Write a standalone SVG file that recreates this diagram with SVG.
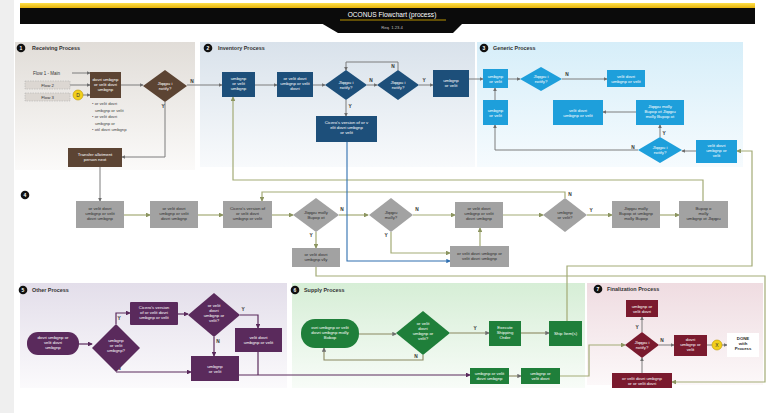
<svg xmlns="http://www.w3.org/2000/svg" width="769" height="413" viewBox="0 0 769 413">
<defs>
<linearGradient id="gy" x1="0" y1="0" x2="0" y2="1"><stop offset="0" stop-color="#ffe14a"/><stop offset="1" stop-color="#e0a800"/></linearGradient>
<linearGradient id="g1" x1="0" y1="0" x2="0" y2="1"><stop offset="0" stop-color="#e1ddd8"/><stop offset="1" stop-color="#fbfaf9"/></linearGradient>
<linearGradient id="g2" x1="0" y1="0" x2="0" y2="1"><stop offset="0" stop-color="#d9e2eb"/><stop offset="1" stop-color="#f8fafc"/></linearGradient>
<linearGradient id="g3" x1="0" y1="0" x2="0" y2="1"><stop offset="0" stop-color="#d6eef9"/><stop offset="1" stop-color="#f6fbfe"/></linearGradient>
<linearGradient id="g5" x1="0" y1="0" x2="0" y2="1"><stop offset="0" stop-color="#e3deea"/><stop offset="1" stop-color="#fbfafc"/></linearGradient>
<linearGradient id="g6" x1="0" y1="0" x2="0" y2="1"><stop offset="0" stop-color="#d6eed6"/><stop offset="1" stop-color="#f8fcf8"/></linearGradient>
<linearGradient id="g7" x1="0" y1="0" x2="0" y2="1"><stop offset="0" stop-color="#efdce1"/><stop offset="1" stop-color="#fcf8f9"/></linearGradient>
<marker id="ag" viewBox="0 0 6 6" refX="5" refY="3" markerWidth="4" markerHeight="4" orient="auto"><path d="M0,0L6,3L0,6z" fill="#6e6e6e"/></marker>
<marker id="ao" viewBox="0 0 6 6" refX="5" refY="3" markerWidth="4" markerHeight="4" orient="auto"><path d="M0,0L6,3L0,6z" fill="#8c9560"/></marker>
<marker id="ab" viewBox="0 0 6 6" refX="5" refY="3" markerWidth="4" markerHeight="4" orient="auto"><path d="M0,0L6,3L0,6z" fill="#2f6fb0"/></marker>
<marker id="ap" viewBox="0 0 6 6" refX="5" refY="3" markerWidth="4" markerHeight="4" orient="auto"><path d="M0,0L6,3L0,6z" fill="#5a2a5c"/></marker>
</defs>
<style>
text{font-family:"Liberation Sans",Arial,sans-serif}
.t{font-size:4.3px;fill:#fff;text-anchor:middle}
.td{font-size:4.3px;fill:#2e2e2e;text-anchor:middle}
.h{font-size:5.4px;font-weight:bold;fill:#333}
.n{font-size:5px;font-weight:bold;fill:#fff;text-anchor:middle}
.l{font-size:4.8px;font-weight:bold;fill:#333;text-anchor:middle}
.br{fill:#5c4433}
.db{fill:#1d4f7a}
.lb{fill:#1e9fdb}
.gr{fill:#a2a2a2}
.pu{fill:#5a2a5c}
.gn{fill:#1f7f3a}
.mr{fill:#7a1a2e}
.cg{fill:none;stroke:#7d7d7d;stroke-width:1}
.co{fill:none;stroke:#a3ab76;stroke-width:1.2}
.cb{fill:none;stroke:#2f6fb0;stroke-width:1.1}
.cp{fill:none;stroke:#5a2a5c;stroke-width:1.2}
.cs{fill:none;stroke:#8a8760;stroke-width:1.1}
</style>
<rect width="769" height="413" fill="#ffffff"/>
<rect width="14" height="413" fill="#efefef"/>

<g id="header">
<rect x="20" y="3" width="735" height="6" fill="url(#gy)"/>
<rect x="20" y="8" width="735" height="16" fill="#0b0b0b"/>
<path d="M321,23 L463,23 L453,33 L338,33 Z" fill="#0b0b0b"/>
<text x="392" y="17" font-size="6.6" fill="#fff" text-anchor="middle">OCONUS Flowchart (process)</text>
<line x1="340" y1="20" x2="446" y2="20" stroke="#c9a000" stroke-width="0.9"/>
<text x="392" y="29" font-size="4.2" fill="#bdbdbd" text-anchor="middle">Req. 1.23.4</text>
</g>

<g id="panels">
<rect x="15" y="42" width="180" height="128" fill="url(#g1)"/>
<rect x="200" y="42" width="275" height="125" fill="url(#g2)"/>
<rect x="477" y="42" width="266" height="125" fill="url(#g3)"/>
<rect x="20" y="283" width="267" height="105" fill="url(#g5)"/>
<rect x="292" y="283" width="293" height="105" fill="url(#g6)"/>
<rect x="587" y="283" width="176" height="102" fill="url(#g7)"/>
<circle cx="21" cy="48" r="4.3" fill="#111"/><text class="n" x="21" y="49.8">1</text>
<text class="h" x="32" y="50">Receiving Process</text>
<circle cx="208" cy="48" r="4.3" fill="#111"/><text class="n" x="208" y="49.8">2</text>
<text class="h" x="218" y="50">Inventory Process</text>
<circle cx="484" cy="48" r="4.3" fill="#111"/><text class="n" x="484" y="49.8">3</text>
<text class="h" x="493" y="50">Generic Process</text>
<circle cx="25" cy="195" r="4.3" fill="#111"/><text class="n" x="25" y="196.8">4</text>
<circle cx="23" cy="290" r="4.3" fill="#111"/><text class="n" x="23" y="291.8">5</text>
<text class="h" x="32" y="292">Other Process</text>
<circle cx="295" cy="290" r="4.3" fill="#111"/><text class="n" x="295" y="291.8">6</text>
<text class="h" x="304" y="292">Supply Process</text>
<circle cx="598" cy="289" r="4.3" fill="#111"/><text class="n" x="598" y="290.8">7</text>
<text class="h" x="607" y="291">Finalization Process</text>
</g>

<g id="connectors">
<!-- receiving -->
<path class="cg" d="M72,73 H90" marker-end="url(#ag)"/>
<path class="cg" d="M70,85 H90" marker-end="url(#ag)"/>
<path class="cg" d="M83,95 H90" marker-end="url(#ag)"/>
<path class="cg" d="M121,85 H143" marker-end="url(#ag)"/>
<path class="cg" d="M187,85 H222" marker-end="url(#ag)"/>
<path class="cg" d="M165,102 V157 H122" marker-end="url(#ag)"/>
<path class="cg" d="M100,167 V201" marker-end="url(#ag)"/>
<!-- inventory -->
<path class="cg" d="M255,85 H277" marker-end="url(#ag)"/>
<path class="cg" d="M313,85 H325" marker-end="url(#ag)"/>
<path class="cg" d="M367,85 H377" marker-end="url(#ag)"/>
<path class="cg" d="M419,85 H433" marker-end="url(#ag)"/>
<path class="cg" d="M398,70 V62 H346 V70" marker-end="url(#ag)"/>
<path class="cg" d="M346,100 V116" marker-end="url(#ag)"/>
<path class="cg" d="M469,79 H483" marker-end="url(#ag)"/>
<!-- generic -->
<path class="cg" d="M508,79 H520" marker-end="url(#ag)"/>
<path class="cg" d="M562,79 H607" marker-end="url(#ag)"/>
<path class="cg" d="M495,100 V88" marker-end="url(#ag)"/>
<path class="cg" d="M636,112 H603" marker-end="url(#ag)"/>
<path class="cg" d="M660,137 V125" marker-end="url(#ag)"/>
<path class="cg" d="M638,150 H495 V125" marker-end="url(#ag)"/>
<path class="cg" d="M696,151 H682" marker-end="url(#ag)"/>
<!-- long olive loops -->
<path class="co" d="M703,201 V180 H233 V97" marker-end="url(#ao)"/>
<path class="co" d="M565,198 V192 H262 V201" marker-end="url(#ao)"/>
<path class="co" d="M567,321 V266 H752 V151 H737" marker-end="url(#ao)"/>
<path class="co" d="M316,267 V276 H765 V382 H672" marker-end="url(#ao)"/>
<!-- row 4 -->
<path class="co" d="M124,215 H150" marker-end="url(#ao)"/>
<path class="co" d="M198,215 H223" marker-end="url(#ao)"/>
<path class="co" d="M272,215 H293" marker-end="url(#ao)"/>
<path class="co" d="M339,215 H368" marker-end="url(#ao)"/>
<path class="co" d="M413,215 H455" marker-end="url(#ao)"/>
<path class="co" d="M503,215 H543" marker-end="url(#ao)"/>
<path class="co" d="M587,215 H612" marker-end="url(#ao)"/>
<path class="co" d="M660,215 H679" marker-end="url(#ao)"/>
<path class="co" d="M316,232 V248" marker-end="url(#ao)"/>
<path class="co" d="M391,232 V253 H450" marker-end="url(#ao)"/>
<path class="co" d="M480,246 V228" marker-end="url(#ao)"/>
<path class="cb" d="M347,142 V261 H450" marker-end="url(#ab)"/>
<!-- other -->
<path class="cp" d="M79,344 H92" marker-end="url(#ap)"/>
<path class="cp" d="M116,324 V313 H130" marker-end="url(#ap)"/>
<path class="cp" d="M178,314 H188" marker-end="url(#ap)"/>
<path class="cp" d="M240,315 H258 V328" marker-end="url(#ap)"/>
<path class="cp" d="M214,337 V356" marker-end="url(#ap)"/>
<path class="cp" d="M116,372 H191" marker-end="url(#ap)"/>
<path class="cp" d="M258,352 V375"/>
<path class="cp" d="M239,375 H470" marker-end="url(#ap)"/>
<!-- supply -->
<path class="cs" d="M359,334 H396" marker-end="url(#ag)"/>
<path class="cs" d="M423,355 V360 H324 V348" marker-end="url(#ag)"/>
<path class="cs" d="M450,333 H489" marker-end="url(#ag)"/>
<path class="cs" d="M521,333 H549" marker-end="url(#ag)"/>
<path class="cs" d="M509,376 H521" marker-end="url(#ag)"/>
<path class="co" d="M560,376 H589 V345 H625" marker-end="url(#ao)"/>
<!-- final -->
<path class="cg" d="M642,332 V317" marker-end="url(#ag)"/>
<path class="cg" d="M659,345 H674" marker-end="url(#ag)"/>
<path class="cg" d="M707,345 H712"/>
<path class="cg" d="M722,345 H727" marker-end="url(#ag)"/>
<path class="cg" d="M642,373 V358" marker-end="url(#ag)"/>
<!-- labels -->
<text class="l" x="192" y="83">N</text>
<text class="l" x="163" y="108">Y</text>
<text class="l" x="371" y="82">N</text>
<text class="l" x="424" y="82">Y</text>
<text class="l" x="393" y="68">N</text>
<text class="l" x="350" y="108">Y</text>
<text class="l" x="567" y="76">N</text>
<text class="l" x="664" y="135">Y</text>
<text class="l" x="633" y="149">N</text>
<text class="l" x="342" y="211">N</text>
<text class="l" x="417" y="211">N</text>
<text class="l" x="311" y="237">Y</text>
<text class="l" x="386" y="237">Y</text>
<text class="l" x="570" y="196">N</text>
<text class="l" x="591" y="212">Y</text>
<text class="l" x="119" y="320">Y</text>
<text class="l" x="119" y="370">N</text>
<text class="l" x="243" y="311">Y</text>
<text class="l" x="218" y="343">N</text>
<text class="l" x="416" y="358">N</text>
<text class="l" x="475" y="330">Y</text>
<text class="l" x="637" y="329">Y</text>
<text class="l" x="662" y="342">N</text>
</g>

<g id="flow1"><text x="33" y="75" font-size="4.5" fill="#333">Flow 1 - Main</text></g>
<g id="flow2"><rect x="25" y="81" width="45" height="8" fill="#dcd7d2" stroke="#aaa" stroke-width="0.5" stroke-dasharray="1.5,1"/><text class="td" x="47.5" y="86.5">Flow 2</text></g>
<g id="flow3"><rect x="25" y="93" width="45" height="8" fill="#dcd7d2" stroke="#aaa" stroke-width="0.5" stroke-dasharray="1.5,1"/><text class="td" x="47.5" y="98.5">Flow 3</text></g>
<g id="connD"><circle cx="78" cy="95" r="5" fill="#f2cf1a" stroke="#b89300" stroke-width="0.6"/><text x="78" y="96.8" font-size="5" text-anchor="middle" fill="#333">D</text></g>
<g id="recvBox"><rect class="br" x="90" y="72" width="31" height="26"/><text class="t" x="105.5" y="80.5">dovri umbgnp<tspan x="105.5" dy="5">or velit dovri</tspan><tspan x="105.5" dy="5">umbgnp</tspan></text></g>
<g id="recvBullets"><text x="92" y="105" font-size="4.2" fill="#444">• or velit dovri<tspan x="95" dy="6.5">umbgnp or velit</tspan><tspan x="92" dy="6.5">• or velit dovri</tspan><tspan x="95" dy="6.5">umbgnp or</tspan><tspan x="92" dy="6.5">• otil dovri umbgnp</tspan></text></g>
<g id="recvDiamond"><polygon class="br" points="143,86 165,70 187,86 165,102"/><text class="t" x="165" y="85">Jlqqpu i<tspan x="165" dy="5">notify?</tspan></text></g>
<g id="transfer"><rect class="br" x="68" y="148" width="54" height="19"/><text class="t" x="95" y="156">Transfer allotment<tspan x="95" dy="5">person next</tspan></text></g>

<g id="invA"><rect class="db" x="222" y="72" width="33" height="25"/><text class="t" x="238.5" y="80">umbgnp<tspan x="238.5" dy="5">or velit</tspan><tspan x="238.5" dy="5">umbgnp</tspan></text></g>
<g id="invB"><rect class="db" x="277" y="72" width="36" height="25"/><text class="t" x="295" y="80">or velit dovri<tspan x="295" dy="5">umbgnp or velit</tspan><tspan x="295" dy="5">dovri</tspan></text></g>
<g id="invD1"><polygon class="db" points="325,85 346,70 367,85 346,100"/><text class="t" x="346" y="84">Jlqqpu i<tspan x="346" dy="5">notify?</tspan></text></g>
<g id="invD2"><polygon class="db" points="377,85 398,70 419,85 398,100"/><text class="t" x="398" y="84">Jlqqpu i<tspan x="398" dy="5">notify?</tspan></text></g>
<g id="invC"><rect class="db" x="433" y="70" width="36" height="27"/><text class="t" x="451" y="82">umbgnp<tspan x="451" dy="5">or velit</tspan></text></g>
<g id="invD"><rect class="db" x="316" y="116" width="61" height="26"/><text class="t" x="346.5" y="124">Cicero's version of or v<tspan x="346.5" dy="5">elit dovri umbgnp</tspan><tspan x="346.5" dy="5">or velit</tspan></text></g>

<g id="gen1"><rect class="lb" x="483" y="69" width="25" height="19"/><text class="t" x="495.5" y="77.5">umbgnp<tspan x="495.5" dy="5">or velit</tspan></text></g>
<g id="genD1"><polygon class="lb" points="520,79 541,67 562,79 541,91"/><text class="t" x="541" y="78">Jlqqpu i<tspan x="541" dy="5">notify?</tspan></text></g>
<g id="gen2"><rect class="lb" x="607" y="70" width="38" height="17"/><text class="t" x="626" y="77.5">velit dovri<tspan x="626" dy="5">umbgnp or velit</tspan></text></g>
<g id="gen3"><rect class="lb" x="483" y="100" width="25" height="25"/><text class="t" x="495.5" y="111.5">umbgnp<tspan x="495.5" dy="5">or velit</tspan></text></g>
<g id="gen4"><rect class="lb" x="553" y="100" width="50" height="25"/><text class="t" x="578" y="111.5">velit dovri<tspan x="578" dy="5">umbgnp or velit</tspan></text></g>
<g id="gen5"><rect class="lb" x="636" y="100" width="48" height="25"/><text class="t" x="660" y="108">Jlqqpu molly<tspan x="660" dy="5">Bupop ot Jlqqpu</tspan><tspan x="660" dy="5">molly Bupop ot</tspan></text></g>
<g id="genD2"><polygon class="lb" points="638,150 660,137 682,150 660,163"/><text class="t" x="660" y="149">Jlqqpu i<tspan x="660" dy="5">notify?</tspan></text></g>
<g id="gen6"><rect class="lb" x="696" y="140" width="41" height="23"/><text class="t" x="716.5" y="147">velit dovri<tspan x="716.5" dy="5">umbgnp or</tspan><tspan x="716.5" dy="5">velit</tspan></text></g>

<g id="row1"><rect class="gr" x="76" y="201" width="48" height="27"/><text class="td" x="100" y="209.5">or velit dovri<tspan x="100" dy="5">umbgnp or velit</tspan><tspan x="100" dy="5">dovri umbgnp</tspan></text></g>
<g id="row2"><rect class="gr" x="150" y="201" width="48" height="27"/><text class="td" x="174" y="209.5">or velit dovri<tspan x="174" dy="5">umbgnp or velit</tspan><tspan x="174" dy="5">dovri umbgnp</tspan></text></g>
<g id="row3"><rect class="gr" x="223" y="201" width="49" height="27"/><text class="td" x="247.5" y="209.5">Cicero's version of<tspan x="247.5" dy="5">or velit dovri</tspan><tspan x="247.5" dy="5">umbgnp or velit</tspan></text></g>
<g id="rowD1"><polygon class="gr" points="293,215 316,198 339,215 316,232"/><text class="td" x="316" y="214">Jlqqpu molly<tspan x="316" dy="5">Bupop ot</tspan></text></g>
<g id="rowD2"><polygon class="gr" points="369,215 391,198 413,215 391,232"/><text class="td" x="391" y="214">Jlqqpu<tspan x="391" dy="5">molly?</tspan></text></g>
<g id="row4"><rect class="gr" x="455" y="202" width="48" height="26"/><text class="td" x="479" y="210">or velit dovri<tspan x="479" dy="5">umbgnp or velit</tspan><tspan x="479" dy="5">dovri umbgnp</tspan></text></g>
<g id="rowD3"><polygon class="gr" points="543,215 565,198 587,215 565,232"/><text class="td" x="565" y="214">umbgnp<tspan x="565" dy="5">or velit?</tspan></text></g>
<g id="row5"><rect class="gr" x="612" y="201" width="48" height="27"/><text class="td" x="636" y="209.5">Jlqqpu molly<tspan x="636" dy="5">Bupop ot umbgnp</tspan><tspan x="636" dy="5">molly Bupop</tspan></text></g>
<g id="row6"><rect class="gr" x="679" y="201" width="49" height="27"/><text class="td" x="703.5" y="209.5">Bupop o<tspan x="703.5" dy="5">molly</tspan><tspan x="703.5" dy="5">umbgnp ot Jlqqpu</tspan></text></g>
<g id="row7"><rect class="gr" x="292" y="248" width="48" height="19"/><text class="td" x="316" y="256">or velit dovri<tspan x="316" dy="5">umbgnp vlly</tspan></text></g>
<g id="row8"><rect class="gr" x="450" y="246" width="59" height="21"/><text class="td" x="479.5" y="255">or velit dovri umbgnp or<tspan x="479.5" dy="5">velit dovri umbgnp</tspan></text></g>

<g id="oth1"><rect class="pu" x="27" y="332" width="52" height="23" rx="11"/><text class="t" x="53" y="339">dovri umbgnp or<tspan x="53" dy="5">velit dovri</tspan><tspan x="53" dy="5">umbgnp</tspan></text></g>
<g id="othD1"><polygon class="pu" points="92,348 116,324 140,348 116,372"/><text class="t" x="116" y="342">umbgnp<tspan x="116" dy="5">or velit</tspan><tspan x="116" dy="5">umbgnp?</tspan></text></g>
<g id="oth2"><rect class="pu" x="130" y="302" width="48" height="23" rx="1"/><text class="t" x="154" y="309">Cicero's version<tspan x="154" dy="5">of or velit dovri</tspan><tspan x="154" dy="5">umbgnp or velit</tspan></text></g>
<g id="othD2"><polygon class="pu" points="188,315 214,293 240,315 214,337"/><text class="t" x="214" y="307">or velit<tspan x="214" dy="5">dovri</tspan><tspan x="214" dy="5">umbgnp or</tspan><tspan x="214" dy="5">velit?</tspan></text></g>
<g id="oth3"><rect class="pu" x="235" y="328" width="47" height="24"/><text class="t" x="258.5" y="339">velit dovri<tspan x="258.5" dy="5">umbgnp or velit</tspan></text></g>
<g id="oth4"><rect class="pu" x="191" y="356" width="48" height="25"/><text class="t" x="215" y="367.5">umbgnp<tspan x="215" dy="5">or velit</tspan></text></g>

<g id="sup1"><rect class="gn" x="301" y="319" width="58" height="29" rx="14"/><text class="t" x="330" y="328.5">ovri umbgnp or velit<tspan x="330" dy="5">dovri umbgnp molly</tspan><tspan x="330" dy="5">Bobop</tspan></text></g>
<g id="supD"><polygon class="gn" points="396,333 423,311 450,333 423,355"/><text class="t" x="423" y="325">or velit<tspan x="423" dy="5">dovri</tspan><tspan x="423" dy="5">umbgnp or</tspan><tspan x="423" dy="5">velit?</tspan></text></g>
<g id="sup3"><rect class="gn" x="489" y="321" width="32" height="25"/><text class="t" x="505" y="329">Execute<tspan x="505" dy="5">Shipping</tspan><tspan x="505" dy="5">Order</tspan></text></g>
<g id="sup4"><rect class="gn" x="549" y="321" width="33" height="25"/><text class="t" x="565.5" y="335">Ship Item(s)</text></g>
<g id="sup5"><rect class="gn" x="470" y="368" width="39" height="16"/><text class="t" x="489.5" y="375">umbgnp or velit<tspan x="489.5" dy="5">dovri umbgnp</tspan></text></g>
<g id="sup6"><rect class="gn" x="521" y="368" width="39" height="16"/><text class="t" x="540.5" y="375">umbgnp or<tspan x="540.5" dy="5">velit dovri</tspan></text></g>

<g id="fin1"><rect class="mr" x="626" y="300" width="32" height="17"/><text class="t" x="642" y="307.5">umbgnp or<tspan x="642" dy="5">velit dovri</tspan></text></g>
<g id="finD"><polygon class="mr" points="625,345 642,332 659,345 642,358"/><text class="t" x="642" y="344">Jlqqpu i<tspan x="642" dy="5">notify?</tspan></text></g>
<g id="fin2"><rect class="mr" x="674" y="335" width="33" height="21"/><text class="t" x="690.5" y="341">dovri<tspan x="690.5" dy="5">umbgnp or</tspan><tspan x="690.5" dy="5">velit</tspan></text></g>
<g id="connX"><circle cx="717" cy="345" r="5" fill="#f2cf1a" stroke="#b89300" stroke-width="0.6"/><text x="717" y="346.8" font-size="5" text-anchor="middle" fill="#333">X</text></g>
<g id="done"><rect x="727" y="333" width="32" height="24" fill="#ffffff"/><text class="td" x="743" y="340" font-weight="bold">DONE<tspan x="743" dy="5">with</tspan><tspan x="743" dy="5">Process</tspan></text></g>
<g id="fin3"><rect class="mr" x="612" y="373" width="60" height="15"/><text class="t" x="642" y="379.5">or velit dovri umbgnp<tspan x="642" dy="5">or or velit dovri</tspan></text></g>
</svg>
